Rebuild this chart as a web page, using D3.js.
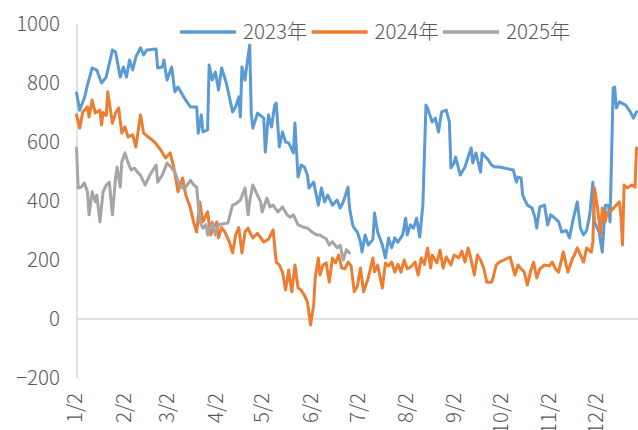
<!DOCTYPE html>
<html>
<head>
<meta charset="utf-8">
<script src="https://cdn.jsdelivr.net/npm/d3@7"></script>
<style>
  body { margin: 0; background: white; }
  text { font-family: "Noto Sans CJK SC Light", "Noto Sans CJK SC DemiLight", "Noto Sans CJK SC", "Noto Sans", sans-serif; font-weight: 300; fill: #595959; }
</style>
</head>
<body>
<div id="chart"></div>
<script>
// x = day of year (Jan 2 = 1), y = value
var days2023 = [2,4,7,9,12,15,18,21,25,27,30,32,34,36,38,40,43,45,47,53,54,57,58,60,63,65,67,70,72,75,79,80,82,83,86,87,89,91,93,95,98,102,104,106,107,108,110,111,113,114,115,118,122,123,125,127,129,130,132,134,136,138,141,142,144,146,148,150,151,154,157,159,161,163,166,169,171,173,176,177,179,180,182,184,185,187,189,192,193,195,198,200,202,204,206,208,211,213,214,216,218,220,222,224,226,227,230,232,234,236,239,241,242,244,245,248,251,253,255,256,258,261,262,263,266,268,270,273,282,284,285,287,288,291,294,296,297,299,302,304,306,308,311,313,316,318,320,323,325,327,329,331,333,334,337,339,341,343,344,346,347,348,350,354,357,359,361];
var vals2023 = [766,708,749,793,851,844,800,820,912,905,820,854,820,878,844,888,919,895,912,915,851,854,878,810,854,770,786,759,742,719,719,630,692,634,641,861,810,837,776,851,800,702,719,753,685,854,810,854,929,698,647,698,681,566,692,651,725,732,583,634,600,597,563,664,481,522,515,488,444,464,386,444,397,420,386,403,376,397,447,376,319,308,295,261,227,285,251,270,359,295,251,207,275,241,275,260,285,342,285,319,308,342,278,386,725,715,668,681,634,702,708,668,512,529,549,488,515,549,580,529,563,498,563,556,539,522,515,515,505,464,481,478,420,386,376,342,308,380,386,319,353,345,330,295,300,275,329,397,308,285,300,353,464,329,295,227,386,386,329,783,786,715,736,725,702,681,702];

var days2024 = [2,4,6,9,10,12,14,17,18,19,21,22,25,27,29,31,33,35,38,40,43,45,48,52,56,59,62,64,66,67,70,72,75,77,79,81,83,86,88,90,92,93,95,97,100,102,104,106,108,110,112,113,115,118,122,125,128,130,132,134,136,138,139,140,142,144,146,148,150,152,154,155,157,158,160,162,164,166,168,170,172,174,176,178,180,182,184,186,189,192,193,195,198,200,202,204,206,208,210,212,214,216,219,221,223,225,227,229,230,233,235,237,239,242,244,247,249,251,253,255,257,259,261,263,265,268,269,271,273,280,283,285,287,289,291,293,295,297,299,302,305,307,309,311,314,317,320,321,323,327,329,332,333,334,336,338,339,341,342,344,348,350,351,352,353,355,358,360,361];
var vals2024 = [692,647,702,719,685,742,698,708,658,700,690,770,664,698,715,630,651,617,624,583,692,630,617,600,573,546,563,522,464,431,478,420,376,329,295,397,329,363,285,310,329,275,310,295,261,224,285,310,224,295,308,295,275,290,261,270,302,193,183,159,98,166,125,92,183,105,98,81,58,-20,47,139,207,149,183,190,125,207,190,217,173,170,193,180,92,110,173,92,139,207,160,183,105,190,180,193,159,185,159,200,170,175,193,149,207,185,241,173,217,190,234,173,210,183,217,207,230,193,241,200,149,217,200,173,125,125,139,183,193,210,149,183,170,160,115,160,193,139,170,183,180,193,170,159,227,159,207,215,241,193,241,227,261,444,376,285,376,330,360,363,386,397,350,251,454,444,454,447,580];

var days2025 = [2,3,5,7,9,10,12,14,15,17,19,21,23,25,27,28,30,31,33,35,37,39,41,43,46,49,53,54,57,60,63,65,68,71,75,77,79,81,83,85,86,89,91,93,95,99,102,104,107,110,112,113,115,118,120,121,124,126,128,131,134,137,139,141,144,147,150,153,156,158,160,162,164,166,169,171,173,175,177];
var vals2025 = [580,444,447,461,431,353,431,397,420,329,431,454,464,353,478,515,447,532,563,530,505,512,498,488,454,488,522,464,488,529,512,498,454,440,470,455,447,329,308,320,285,329,285,319,322,325,386,390,403,444,353,400,454,420,397,363,410,380,386,363,380,353,345,353,319,312,308,295,285,285,278,272,251,262,241,250,200,235,224];

var seriesNames = ["2023年", "2024年", "2025年"];
var seriesColors = ["#5B9BD5", "#ED7D31", "#A5A5A5"];

var tickDays = [1, 32, 60, 91, 121, 152, 182, 213, 244, 274, 305, 335];
var tickLabels = ["1/2", "2/2", "3/2", "4/2", "5/2", "6/2", "7/2", "8/2", "9/2", "10/2", "11/2", "12/2"];
var yTicks = [-200, 0, 200, 400, 600, 800, 1000];

var width = 638, height = 430;
var fontSize = "20.5px";

var svg = d3.select("#chart")
    .append("svg")
    .attr("width", width)
    .attr("height", height);

var x = d3.scaleLinear().domain([1, 335]).range([75, 596]);
var y = d3.scaleLinear().domain([-200, 1000]).range([378, 24]);

// y axis, minus sign like the original
var yAxis = svg.append("g")
    .attr("transform", "translate(77,0)")
    .call(d3.axisLeft(y)
        .tickValues(yTicks)
        .tickSize(0)
        .tickPadding(17)
        .tickFormat(function(d) { return d < 0 ? "\u2212" + Math.abs(d) : String(d); }));
yAxis.select(".domain").remove();
yAxis.selectAll("text").style("font-size", fontSize);

svg.append("line")
    .attr("x1", 77).attr("x2", 77)
    .attr("y1", y(1000)).attr("y2", y(-200))
    .style("stroke", "#d9d9d9").style("stroke-width", 1.5);

svg.append("line")
    .attr("x1", 77).attr("x2", width)
    .attr("y1", y(0)).attr("y2", y(0))
    .style("stroke", "#d9d9d9").style("stroke-width", 1.5);

// x labels, rotated (the long ones run off the bottom edge, as in the original)
svg.append("g")
    .selectAll("text")
    .data(tickDays)
    .enter().append("text")
    .attr("transform", function(d) { return "translate(" + x(d) + ",393) rotate(-90)"; })
    .attr("text-anchor", "end")
    .attr("dy", "0.35em")
    .style("font-size", fontSize)
    .text(function(d, i) { return tickLabels[i]; });

var line = d3.line()
    .x(function(d) { return x(d[0]); })
    .y(function(d) { return y(d[1]); });

var allDays = [days2023, days2024, days2025];
var allVals = [vals2023, vals2024, vals2025];

for (var s = 0; s < 3; s++) {
    var pts = allDays[s].map(function(d, i) { return [d, allVals[s][i]]; });
    svg.append("path")
        .datum(pts)
        .attr("d", line)
        .style("fill", "none")
        .style("stroke", seriesColors[s])
        .style("stroke-width", 3)
        .style("stroke-linejoin", "round")
        .style("stroke-linecap", "round");
}

// legend
var legend = svg.append("g")
    .selectAll("g")
    .data(seriesNames)
    .enter().append("g")
    .attr("transform", function(d, i) { return "translate(" + (180 + i * 131.5) + ",32)"; });

legend.append("line")
    .attr("x1", 0).attr("x2", 56)
    .style("stroke", function(d, i) { return seriesColors[i]; })
    .style("stroke-width", 3.5);

legend.append("text")
    .attr("x", 63)
    .attr("dy", "0.35em")
    .style("font-size", fontSize)
    .text(function(d) { return d; });
</script>
</body>
</html>
